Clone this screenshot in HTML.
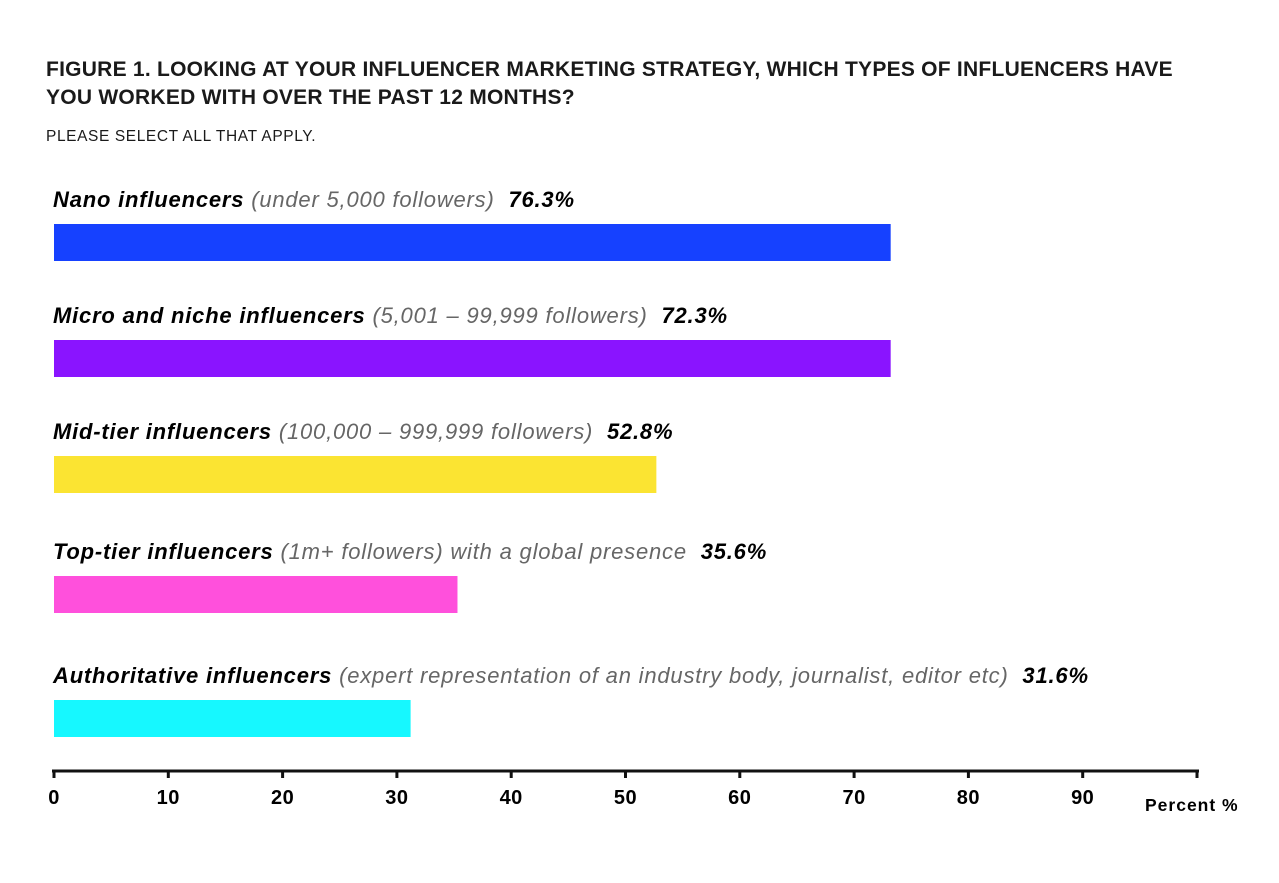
<!DOCTYPE html>
<html><head><meta charset="utf-8">
<style>
body{margin:0;background:#fff;width:1279px;height:883px;overflow:hidden;font-family:"Liberation Sans",sans-serif;}
.t{position:absolute;left:46px;font-weight:bold;color:#1a1a1a;white-space:nowrap;}
</style></head>
<body>
<div class="t" style="top:56px;font-size:21px;line-height:28px;letter-spacing:0.25px;">FIGURE 1. LOOKING AT YOUR INFLUENCER MARKETING STRATEGY, WHICH TYPES OF INFLUENCERS HAVE<br>YOU WORKED WITH OVER THE PAST 12 MONTHS?</div>
<div class="t" style="top:128px;font-size:15.5px;font-weight:normal;letter-spacing:0.6px;">PLEASE SELECT ALL THAT APPLY.</div>
<svg id="chart" width="1279" height="883" style="position:absolute;left:0;top:0" xmlns="http://www.w3.org/2000/svg"></svg>
<script>
const categories=["Nano influencers","Micro and niche influencers","Mid-tier influencers","Top-tier influencers","Authoritative influencers"];
const details=["(under 5,000 followers)","(5,001 – 99,999 followers)","(100,000 – 999,999 followers)","(1m+ followers) with a global presence","(expert representation of an industry body, journalist, editor etc)"];
const values=[73.2,73.2,52.7,35.3,31.2];
const valueLabels=["76.3%","72.3%","52.8%","35.6%","31.6%"];
const ticks=[0,10,20,30,40,50,60,70,80,90];
const colors=["#1641ff","#8a14ff","#fbe432","#ff50dc","#16f8ff"];
const barTops=[224,340,456,576,700];
const svg=document.getElementById('chart');
const NS='http://www.w3.org/2000/svg';
const x=v=>54+v*11.43;
function mk(t,a){const e=document.createElementNS(NS,t);for(const k in a)e.setAttribute(k,a[k]);svg.appendChild(e);return e;}
categories.forEach((c,i)=>{
  const r=mk('rect',{x:x(0),y:barTops[i],width:x(values[i])-x(0),height:37,fill:colors[i]});
  
  
  const t=mk('text',{x:53,y:barTops[i]-17,'font-size':22,'font-style':'italic','letter-spacing':0.8,'font-family':'Liberation Sans, sans-serif','xml:space':'preserve'});
  
  
  t.style.whiteSpace='pre';
  const a=document.createElementNS(NS,'tspan');a.setAttribute('font-weight','bold');a.textContent=c+' ';t.appendChild(a);
  const b=document.createElementNS(NS,'tspan');b.setAttribute('fill','#666');b.textContent=details[i]+'  ';t.appendChild(b);
  const d=document.createElementNS(NS,'tspan');d.setAttribute('font-weight','bold');d.textContent=valueLabels[i];t.appendChild(d);
});
const ax=mk('line',{x1:52,y1:771,x2:1199,y2:771,stroke:'#111','stroke-width':3});


ticks.concat([100]).forEach(v=>{
  const l=mk('line',{x1:x(v),y1:771,x2:x(v),y2:778,stroke:'#111','stroke-width':3});
  
  
});
ticks.forEach(v=>{
  const t=mk('text',{x:x(v),y:804,'text-anchor':'middle','font-size':20,'font-weight':'bold','letter-spacing':0.5,'font-family':'Liberation Sans, sans-serif'});
  
  
  t.textContent=v;
});
const at=mk('text',{x:1145,y:811,'font-size':17.5,'font-weight':'bold','letter-spacing':1,'font-family':'Liberation Sans, sans-serif'});


at.textContent='Percent %';
</script>
</body></html>
